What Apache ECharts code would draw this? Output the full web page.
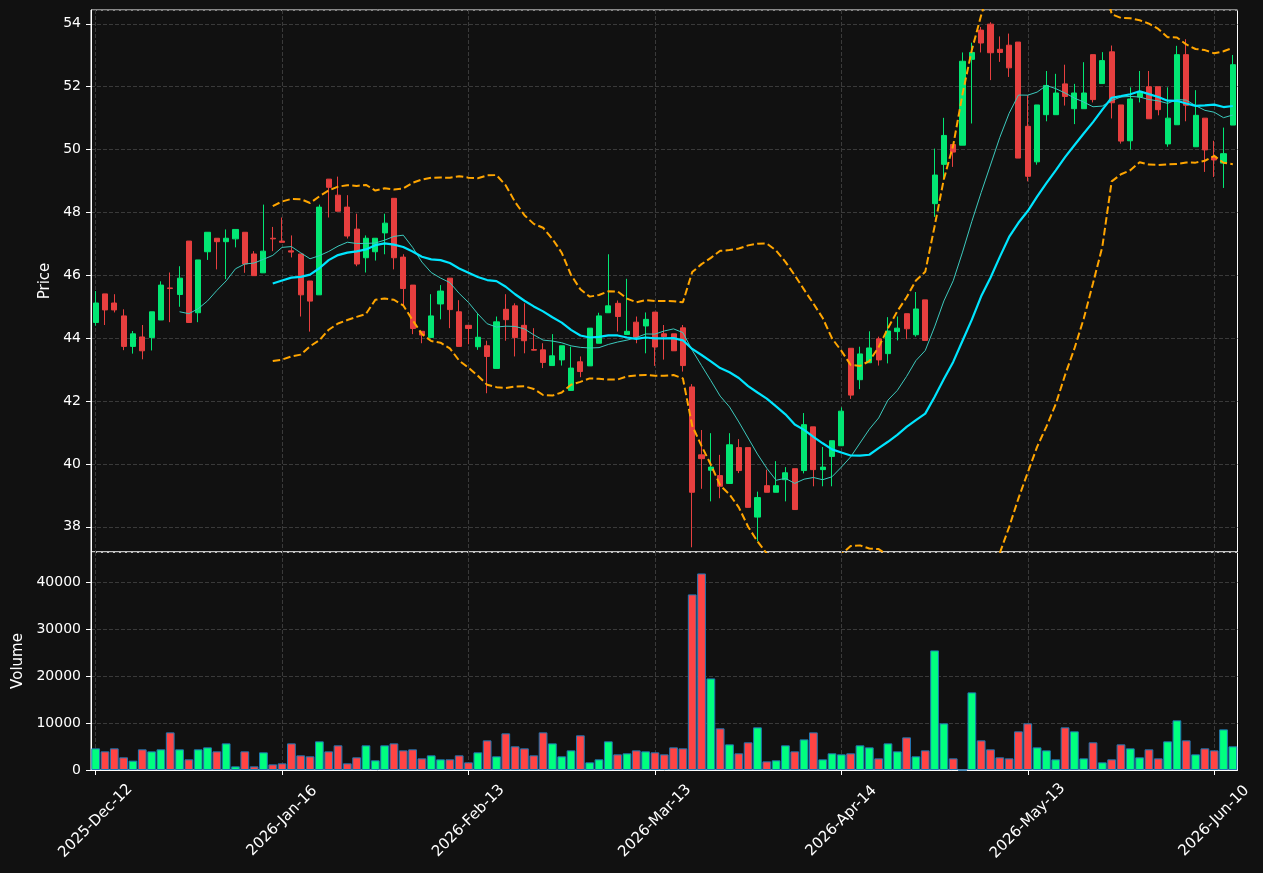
<!DOCTYPE html>
<html><head><meta charset="utf-8">
<script src="https://cdn.jsdelivr.net/npm/echarts@6/dist/echarts.min.js"></script>
<style>html,body{margin:0;padding:0;background:#111111;}#chart{width:1263px;height:873px;}</style>
</head><body><div id="chart"></div>
<script>
const dates = [
'2025-12-12','2025-12-15','2025-12-16','2025-12-17','2025-12-18','2025-12-19','2025-12-22','2025-12-23','2025-12-29','2025-12-30',
'2026-01-02','2026-01-05','2026-01-06','2026-01-07','2026-01-08','2026-01-09','2026-01-12','2026-01-13','2026-01-14','2026-01-15',
'2026-01-16','2026-01-19','2026-01-20','2026-01-21','2026-01-22','2026-01-23','2026-01-26','2026-01-27','2026-01-28','2026-01-29',
'2026-01-30','2026-02-02','2026-02-03','2026-02-04','2026-02-05','2026-02-06','2026-02-09','2026-02-10','2026-02-11','2026-02-12',
'2026-02-13','2026-02-16','2026-02-17','2026-02-18','2026-02-19','2026-02-20','2026-02-23','2026-02-24','2026-02-25','2026-02-26',
'2026-02-27','2026-03-02','2026-03-03','2026-03-04','2026-03-05','2026-03-06','2026-03-09','2026-03-10','2026-03-11','2026-03-12',
'2026-03-13','2026-03-16','2026-03-17','2026-03-18','2026-03-19','2026-03-20','2026-03-23','2026-03-24','2026-03-25','2026-03-26',
'2026-03-27','2026-03-30','2026-03-31','2026-04-01','2026-04-02','2026-04-07','2026-04-08','2026-04-09','2026-04-10','2026-04-13',
'2026-04-14','2026-04-15','2026-04-16','2026-04-17','2026-04-20','2026-04-21','2026-04-22','2026-04-23','2026-04-24','2026-04-27',
'2026-04-28','2026-04-29','2026-04-30','2026-05-04','2026-05-05','2026-05-06','2026-05-07','2026-05-08','2026-05-11','2026-05-12',
'2026-05-13','2026-05-14','2026-05-15','2026-05-18','2026-05-19','2026-05-20','2026-05-21','2026-05-22','2026-05-25','2026-05-26',
'2026-05-27','2026-05-28','2026-05-29','2026-06-01','2026-06-02','2026-06-03','2026-06-04','2026-06-05','2026-06-08','2026-06-09',
'2026-06-10','2026-06-11','2026-06-12'];

const openP = [
44.50,45.41,45.12,44.71,43.74,44.04,44.02,44.58,45.60,45.39,
47.09,44.81,46.75,47.18,47.07,47.16,47.37,46.68,46.08,47.18,
47.09,46.78,46.68,45.82,45.38,49.06,48.55,48.17,47.47,46.56,
46.75,47.35,48.45,46.58,45.69,44.22,44.02,45.09,45.91,44.84,
44.41,43.73,43.76,43.04,44.92,45.03,44.41,43.64,43.63,43.13,
43.31,42.34,43.25,43.12,43.84,44.81,45.11,44.12,44.51,44.39,
44.83,44.14,44.14,44.33,42.45,40.29,39.80,39.63,39.38,40.52,
40.52,38.31,39.31,39.10,39.50,39.85,39.79,41.18,39.82,40.24,
40.58,43.68,42.68,43.22,43.98,43.51,44.21,44.78,44.11,45.22,
48.28,49.53,50.16,50.14,52.87,53.80,53.99,53.19,53.32,53.42,
50.74,49.61,51.11,51.11,52.09,51.30,51.30,53.02,52.10,53.11,
51.42,50.28,51.67,52.00,52.00,50.18,50.79,53.02,50.09,51.00,
49.77,49.57,50.78];

const closeP = [
45.12,44.90,44.90,43.74,44.14,43.60,44.84,45.69,45.58,45.91,
44.50,46.49,47.37,47.07,47.18,47.46,46.36,45.99,46.77,47.16,
47.05,46.74,45.38,45.18,48.17,48.80,48.04,47.25,46.36,47.18,
47.18,47.66,46.56,45.58,44.31,44.10,44.71,45.50,44.91,43.74,
44.31,44.03,43.42,44.52,44.59,44.02,43.92,43.62,43.23,43.44,
43.76,43.05,42.94,44.32,44.71,45.03,44.69,44.22,44.03,44.60,
43.72,44.05,43.60,43.13,39.10,40.17,39.90,39.29,40.61,39.79,
38.62,38.93,39.10,39.31,39.72,38.55,41.25,39.82,39.90,40.74,
41.68,42.19,43.50,43.69,43.31,44.23,44.32,44.30,44.93,43.93,
49.19,50.45,49.92,52.81,53.09,53.39,53.08,53.09,52.60,49.73,
49.15,51.42,52.04,51.80,51.69,51.80,51.80,51.59,52.83,51.49,
50.27,51.61,51.85,50.98,51.27,51.00,53.02,51.41,51.09,49.99,
49.67,49.87,52.70];

const highP = [
45.50,45.41,45.40,44.92,44.23,44.42,44.84,45.81,46.09,46.29,
47.09,46.49,47.37,47.18,47.46,47.46,47.37,46.77,48.25,47.54,
47.84,47.27,46.68,45.82,48.25,49.06,49.14,48.55,47.96,47.27,
47.18,47.96,48.45,46.67,45.69,44.22,45.40,45.69,45.91,45.21,
44.41,44.79,43.92,44.69,45.40,45.11,45.11,44.32,43.84,44.13,
43.76,43.73,43.42,44.32,44.81,46.67,45.20,45.89,44.69,44.82,
44.83,44.42,44.14,44.42,42.54,41.08,40.98,40.29,40.98,40.79,
40.52,39.12,39.82,40.09,39.90,39.85,41.62,41.18,40.54,40.74,
41.80,43.68,43.73,44.22,44.05,44.67,44.69,44.78,45.47,45.22,
50.03,51.01,50.16,53.09,53.40,53.90,54.05,53.60,53.69,53.42,
51.73,51.42,52.50,52.41,52.70,52.09,52.78,53.02,53.10,53.31,
51.42,51.98,52.50,52.50,52.00,51.98,53.30,53.51,51.89,51.00,
50.28,50.70,53.01];

const lowP = [
44.40,44.42,44.82,43.62,43.51,43.33,43.61,44.58,44.51,45.00,
44.50,44.51,46.49,46.19,45.88,46.89,46.08,45.99,46.08,46.77,
47.05,46.57,44.69,44.21,45.38,47.84,48.04,47.17,46.29,46.09,
46.47,46.67,46.19,45.01,44.13,43.84,44.02,44.60,44.32,43.74,
43.81,43.63,42.25,43.04,43.92,43.42,43.52,43.61,43.05,43.13,
43.13,42.34,42.76,43.12,43.84,44.81,44.21,44.12,43.84,43.52,
43.12,43.32,43.60,42.94,37.35,39.21,38.81,38.91,39.38,39.71,
38.62,37.54,39.10,39.10,38.81,38.55,39.70,39.29,39.29,39.29,
40.58,42.07,42.38,43.22,43.13,43.20,43.93,43.97,44.05,43.93,
47.86,49.05,49.45,50.14,50.83,53.09,52.21,52.79,52.31,49.73,
48.99,49.52,50.90,51.11,51.40,50.81,51.30,51.50,52.10,50.99,
50.19,50.00,51.50,50.98,51.09,50.09,50.79,50.90,50.09,49.29,
49.13,48.78,50.78];

const volume = [
4610,3970,4610,2700,1990,4400,3970,4400,8010,4400,
2270,4400,4820,3970,5670,780,3970,780,3760,1200,
1420,5670,3120,2910,6100,3970,5250,1420,2700,5250,
2060,5250,5670,4180,4400,2480,3120,2270,2270,3120,
1630,3760,6310,2910,7800,5040,4610,3120,8010,5670,
2910,4180,7380,1630,2270,6100,3330,3550,4180,3970,
3760,3330,4820,4610,37380,41840,19500,8870,5460,3550,
5890,9080,1840,2060,5250,3970,6520,8010,2270,3550,
3330,3550,5250,4820,2480,5670,3970,6950,2910,4180,
25460,9930,2480,0,16520,6310,4400,2700,2480,8230,
9930,4820,4180,2270,9080,8230,2480,5890,1630,2270,
5460,4610,2700,4400,2480,6100,10570,6310,3330,4610,
4180,8650,5040];

const monthNames = ['Jan','Feb','Mar','Apr','May','Jun','Jul','Aug','Sep','Oct','Nov','Dec'];
const UP = '#02e774', DOWN = '#e73f3f';
const VUP = '#00ff7f', VDOWN = '#ff4444';
const FONT = 'DejaVu Sans';

function sma(arr, n) {
  return arr.map((v, i) => {
    if (i < n - 1) return '-';
    let s = 0; for (let k = i - n + 1; k <= i; k++) s += arr[k];
    return +(s / n).toFixed(4);
  });
}
function band(arr, n, mult, sign) {
  return arr.map((v, i) => {
    if (i < n - 1) return '-';
    let s = 0; for (let k = i - n + 1; k <= i; k++) s += arr[k];
    const m = s / n;
    let q = 0; for (let k = i - n + 1; k <= i; k++) q += (arr[k] - m) * (arr[k] - m);
    const sd = Math.sqrt(q / (n - 1));
    return +(m + sign * mult * sd).toFixed(4);
  });
}

const ma10 = sma(closeP, 10);
const ma20 = sma(closeP, 20);
const bbUp = band(closeP, 20, 2, 1);
const bbLo = band(closeP, 20, 2, -1);
const candles = dates.map((d, i) => [openP[i], closeP[i], lowP[i], highP[i]]);
const volData = volume.map((v, i) => ({ value: v, itemStyle: { color: closeP[i] >= openP[i] ? VUP : VDOWN } }));

const gridLine = { show: true, lineStyle: { color: '#3a3a3a', width: 1, type: [4, 2] } };
const fmtDate = (s) => { const p = s.split('-'); return p[0] + '-' + monthNames[+p[1] - 1] + '-' + p[2]; };

const chart = echarts.init(document.getElementById('chart'), null, { renderer: 'canvas' });
chart.setOption({
  backgroundColor: '#111111',
  animation: false,
  grid: [
    { left: 91, top: 10, width: 1146.5, height: 542, show: true, borderColor: '#ffffff', borderWidth: 1, backgroundColor: 'transparent' },
    { left: 91, top: 552, width: 1146.5, height: 218, show: true, borderColor: '#ffffff', borderWidth: 1, backgroundColor: 'transparent' }
  ],
  xAxis: [
    { type: 'category', gridIndex: 0, data: dates, boundaryGap: true,
      axisLine: { show: false }, axisTick: { show: false }, axisLabel: { show: false },
      splitLine: Object.assign({ interval: 19, alignWithLabel: true }, gridLine) },
    { type: 'category', gridIndex: 1, data: dates, boundaryGap: true,
      axisLine: { show: true, lineStyle: { color: '#ffffff', width: 1 } },
      axisTick: { show: true, interval: 19, alignWithLabel: true, length: 5, lineStyle: { color: '#ffffff' } },
      axisLabel: { show: true, interval: 19, rotate: 45, align: 'center', verticalAlign: 'middle', margin: 51,
        color: '#ffffff', fontSize: 15, fontFamily: FONT, formatter: fmtDate },
      splitLine: Object.assign({ interval: 19, alignWithLabel: true }, gridLine) }
  ],
  yAxis: [
    { type: 'value', gridIndex: 0, min: 37.2, max: 54.44, minInterval: 2, maxInterval: 2, scale: true,
      name: 'Price', nameLocation: 'middle', nameGap: 33,
      nameTextStyle: { color: '#ffffff', fontSize: 15, fontFamily: FONT },
      axisLine: { show: true, lineStyle: { color: '#ffffff' } },
      axisTick: { show: true, length: 5, lineStyle: { color: '#ffffff' } },
      axisLabel: { color: '#ffffff', fontSize: 14, fontFamily: FONT, margin: 10, showMinLabel: false, showMaxLabel: false },
      splitLine: gridLine },
    { type: 'value', gridIndex: 1, min: 0, max: 46400, minInterval: 10000, maxInterval: 10000,
      name: 'Volume', nameLocation: 'middle', nameGap: 65,
      nameTextStyle: { color: '#ffffff', fontSize: 15, fontFamily: FONT },
      axisLine: { show: true, lineStyle: { color: '#ffffff' } },
      axisTick: { show: true, length: 5, lineStyle: { color: '#ffffff' } },
      axisLabel: { color: '#ffffff', fontSize: 14, fontFamily: FONT, margin: 10, showMaxLabel: false,
        formatter: (v) => String(Math.round(v)) },
      splitLine: gridLine }
  ],
  series: [
    { type: 'candlestick', xAxisIndex: 0, yAxisIndex: 0, data: candles, barWidth: '60%',
      itemStyle: { color: UP, color0: DOWN, borderColor: UP, borderColor0: DOWN, borderWidth: 1 } },
    { type: 'line', xAxisIndex: 0, yAxisIndex: 0, data: ma10, symbol: 'none', smooth: false,
      lineStyle: { color: '#3cc9bd', width: 1 } },
    { type: 'line', xAxisIndex: 0, yAxisIndex: 0, data: ma20, symbol: 'none',
      lineStyle: { color: '#00e5ff', width: 2.2 } },
    { type: 'line', xAxisIndex: 0, yAxisIndex: 0, data: bbUp, symbol: 'none',
      lineStyle: { color: '#ffa500', width: 2, type: [7.5, 3.3] } },
    { type: 'line', xAxisIndex: 0, yAxisIndex: 0, data: bbLo, symbol: 'none',
      lineStyle: { color: '#ffa500', width: 2, type: [7.5, 3.3] } },
    { type: 'bar', xAxisIndex: 1, yAxisIndex: 1, data: volData, barWidth: '94%',
      itemStyle: { borderColor: '#1f77b4', borderWidth: 1 } }
  ]
});
</script></body></html>
